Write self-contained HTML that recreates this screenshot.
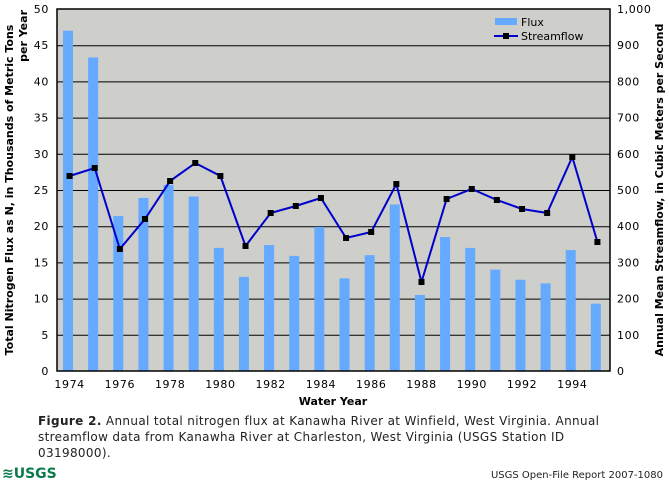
<!DOCTYPE html>
<html><head><style>
body{margin:0;background:#fff;width:669px;height:483px;overflow:hidden}
svg{display:block}
text{font-family:"DejaVu Sans","Liberation Sans",sans-serif}
</style></head><body>
<svg width="669" height="483" viewBox="0 0 669 483">
<rect x="57" y="9" width="553" height="362" fill="#cececa"/>
<g stroke="#000" stroke-width="1">
<line x1="57" x2="610" y1="45.7" y2="45.7"/><line x1="57" x2="610" y1="81.9" y2="81.9"/>
<line x1="57" x2="610" y1="118.1" y2="118.1"/><line x1="57" x2="610" y1="154.3" y2="154.3"/>
<line x1="57" x2="610" y1="190.5" y2="190.5"/><line x1="57" x2="610" y1="226.7" y2="226.7"/>
<line x1="57" x2="610" y1="262.9" y2="262.9"/><line x1="57" x2="610" y1="299.1" y2="299.1"/>
<line x1="57" x2="610" y1="335.3" y2="335.3"/>
</g>
<g id="bars" fill="#66aaff"></g>
<polyline id="line" fill="none" stroke="#0000cc" stroke-width="2"/>
<g id="marks" fill="#000"></g>
<rect x="57" y="9" width="553" height="362" fill="none" stroke="#000" stroke-width="1.5"/>
<g id="ticks" font-size="11" fill="#000" letter-spacing="0.6"></g>
<rect x="495" y="18" width="22" height="7" fill="#66aaff"/>
<text x="521" y="26" font-size="11">Flux</text>
<line x1="494" x2="518" y1="36" y2="36" stroke="#0000cc" stroke-width="2"/>
<rect x="503" y="33" width="6" height="6" fill="#000"/>
<text x="521" y="40" font-size="11">Streamflow</text>
<text x="333" y="405" font-size="11" font-weight="bold" text-anchor="middle">Water Year</text>
<text transform="translate(13,190) rotate(-90)" font-size="11" font-weight="bold" text-anchor="middle">Total Nitrogen Flux as N, in Thousands of Metric Tons</text>
<text transform="translate(27,10) rotate(-90)" font-size="11" font-weight="bold" text-anchor="end">per Year</text>
<text transform="translate(663,190) rotate(-90)" font-size="11" font-weight="bold" text-anchor="middle">Annual Mean Streamflow, in Cubic Meters per Second</text>
<text font-size="12" fill="#222" letter-spacing="0.35"><tspan x="38" y="425"><tspan font-weight="bold">Figure 2.</tspan> Annual total nitrogen flux at Kanawha River at Winfield, West Virginia. Annual</tspan><tspan x="38" y="441">streamflow data from Kanawha River at Charleston, West Virginia (USGS Station ID</tspan><tspan x="38" y="457">03198000).</tspan></text>
<text x="2" y="478" font-size="14" font-weight="bold" fill="#0a7a4a" font-family="Liberation Sans">≋USGS</text>
<text x="663" y="478" font-size="10" fill="#222" text-anchor="end" font-family="Liberation Sans">USGS Open-File Report 2007-1080</text>
</svg>
<script>
var flux=[47,43.3,21.4,23.9,25.7,24.1,17,13,17.4,15.9,19.9,12.8,16,23,10.5,18.5,17,14,12.6,12.1,16.7,9.3];
var sy=[176,168,249,219,181,163,176,246,213,206,198,238,232,184,282,199,189,200,209,213,157,242];
var ns="http://www.w3.org/2000/svg",w=553/22,pts=[];
function el(t,a,p,txt){var e=document.createElementNS(ns,t);for(var k in a)e.setAttribute(k,a[k]);if(txt)e.textContent=txt;document.getElementById(p).appendChild(e);}
for(var i=0;i<22;i++){var x=57+w*i,h=flux[i]*7.24;
el('rect',{x:x+6,y:371-h,width:10,height:h},'bars');
var cx=x+w/2;pts.push(cx+','+sy[i]);
el('rect',{x:cx-3,y:sy[i]-3,width:6,height:6},'marks');
if(i%2==0)el('text',{x:x+12.6,y:388,'text-anchor':'middle'},'ticks',String(1974+i));}
document.getElementById('line').setAttribute('points',pts.join(' '));
for(var j=0;j<=10;j++){var y=371-j*36.2+4;
el('text',{x:49,y:y,'text-anchor':'end'},'ticks',String(j*5));
var v=j*100;el('text',{x:617,y:y},'ticks',v>=1000?'1,000':String(v));}
</script>
</body></html>
